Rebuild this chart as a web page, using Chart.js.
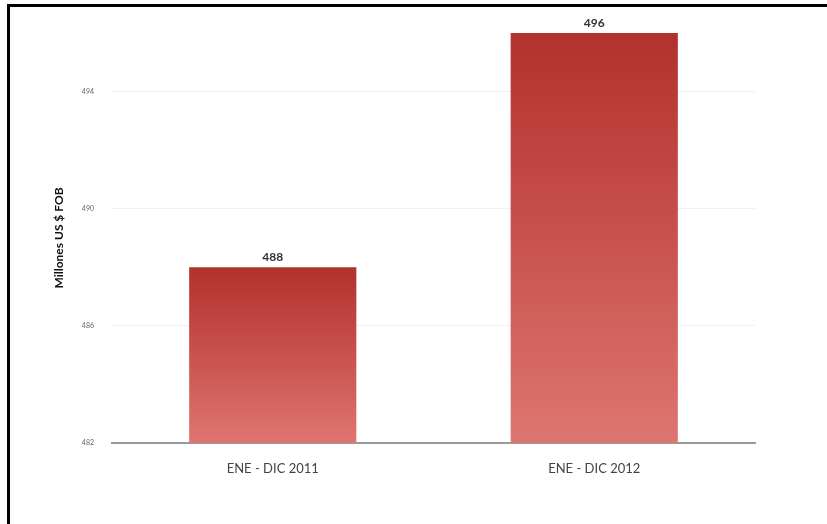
<!DOCTYPE html>
<html>
<head>
<meta charset="utf-8">
<script src="https://cdn.jsdelivr.net/npm/chart.js@4/dist/chart.umd.min.js"></script>
<style>
  html, body { margin: 0; padding: 0; background: #fff; overflow: hidden; }
  #wrap { position: relative; width: 827px; height: 524px; }
  #frame {
    position: absolute; left: 7px; top: 4px; right: 0; bottom: 0;
    border-left: 3px solid #000; border-top: 3px solid #000;
    pointer-events: none;
  }
  canvas { position: absolute; left: 0; top: 0; }
</style>
</head>
<body>
<div id="wrap">
  <canvas id="chart" width="827" height="524"></canvas>
  <div id="frame"></div>
</div>
<script>
const categories = ["ENE - DIC 2011", "ENE - DIC 2012"];
const values = [488, 496];
const yTicks = [482, 486, 490, 494];
const yMin = 482;
const yMax = 496;

// gradient per bar, dark red on top fading lighter to the base
function barGradient(context) {
  const chart = context.chart;
  if (!chart.chartArea || !chart.scales.y) return "#c44a45";
  const y = chart.scales.y;
  const top = y.getPixelForValue(values[context.dataIndex]);
  const bottom = y.getPixelForValue(yMin);
  const g = chart.ctx.createLinearGradient(0, top, 0, bottom);
  g.addColorStop(0, "#b2312c");
  g.addColorStop(0.5, "#c9524d");
  g.addColorStop(1, "#de7571");
  return g;
}

const valueLabels = {
  id: "valueLabels",
  afterDatasetsDraw(chart) {
    const ctx = chart.ctx;
    const meta = chart.getDatasetMeta(0);
    ctx.save();
    ctx.font = "bold 12px Lato, sans-serif";
    ctx.fillStyle = "#333";
    ctx.textAlign = "center";
    ctx.textBaseline = "bottom";
    meta.data.forEach((bar, i) => {
      ctx.fillText(values[i], bar.x, bar.y - 4);
    });
    ctx.restore();
  }
};

const ctx = document.getElementById("chart").getContext("2d");
new Chart(ctx, {
  type: "bar",
  data: {
    labels: categories,
    datasets: [{
      data: values,
      backgroundColor: barGradient,
      borderWidth: 0,
      barPercentage: 0.52,
      categoryPercentage: 1
    }]
  },
  options: {
    responsive: false,
    animation: false,
    layout: { padding: { left: 50, right: 72, top: 33, bottom: 41 } },
    plugins: {
      legend: { display: false },
      tooltip: { enabled: false }
    },
    scales: {
      x: {
        grid: { display: false },
        border: { display: true, color: "#9a9a9a", width: 2 },
        ticks: { color: "#444", font: { family: "Lato, sans-serif", size: 13 }, padding: 10 },
        afterFit(scale) { scale.height = 40; }
      },
      y: {
        min: yMin,
        max: yMax,
        afterBuildTicks(scale) {
          scale.ticks = yTicks.map(v => ({ value: v }));
        },
        grid: { color: "#f0f0f0", drawTicks: false },
        border: { display: false },
        ticks: { color: "#666", font: { family: "Lato, sans-serif", size: 7 }, padding: 18 },
        title: {
          display: true,
          text: "Millones US $ FOB",
          color: "#111",
          font: { family: "Lato, sans-serif", size: 12, weight: "bold" },
          padding: 2
        },
        afterFit(scale) { scale.width = 62; }
      }
    }
  },
  plugins: [valueLabels]
});
</script>
</body>
</html>
